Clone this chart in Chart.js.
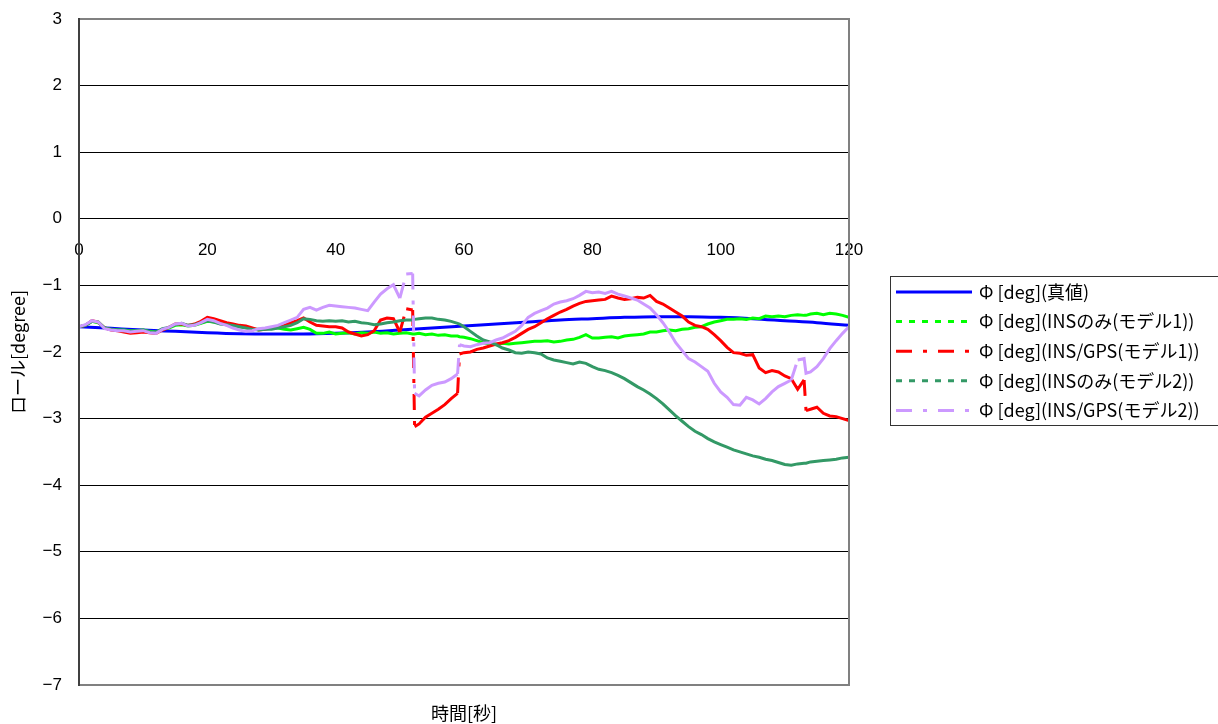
<!DOCTYPE html>
<html>
<head>
<meta charset="utf-8">
<script src="https://cdn.jsdelivr.net/npm/chart.js@4"></script>
<style>
  html, body { margin: 0; padding: 0; background: #fff; }
  #wrap { width: 1218px; height: 724px; position: relative; }
</style>
</head>
<body>
<div id="wrap"><canvas id="chart"></canvas></div>
<script>
// 時間[秒] — 52.3, 59.3, 113.3 are extra samples at the jumps
const times = [
  0, 1, 2, 3, 4, 5, 6, 7, 8, 9, 10, 11, 12, 13, 14, 15, 16, 17, 18, 19, 20, 21, 22, 23,
  24, 25, 26, 27, 28, 29, 30, 31, 32, 33, 34, 35, 36, 37, 38, 39, 40, 41, 42, 43, 44, 45, 46, 47, 48, 49, 50, 51, 52,
  52.3,
  53, 54, 55, 56, 57, 58, 59,
  59.3,
  60, 61, 62, 63, 64, 65, 66, 67, 68, 69, 70, 71, 72, 73, 74, 75, 76, 77, 78, 79,
  80, 81, 82, 83, 84, 85, 86, 87, 88, 89, 90, 91, 92, 93, 94, 95, 96, 97, 98, 99,
  100, 101, 102, 103, 104, 105, 106, 107, 108, 109, 110, 111, 112, 113,
  113.3,
  114, 115, 116, 117, 118, 119, 120
];

// 真値 (smooth, own time base)
const trueTimes = [0, 5, 10, 15, 20, 25, 30, 35, 40, 45, 50, 55, 60, 65, 70, 75, 80, 85, 90, 95, 100, 105, 110, 115, 120];
const trueVals = [-1.62, -1.645, -1.67, -1.69, -1.71, -1.725, -1.73, -1.73, -1.72, -1.70, -1.67, -1.64, -1.61,
  -1.58, -1.55, -1.52, -1.50, -1.48, -1.47, -1.47, -1.48, -1.50, -1.53, -1.56, -1.60];

// INSのみ(モデル1)
const ins1 = [
  -1.62, -1.60, -1.54, -1.56, -1.64, -1.66, -1.67, -1.67, -1.68, -1.68, -1.67, -1.69, -1.70, -1.66, -1.64, -1.60, -1.59, -1.61, -1.60, -1.57, -1.54, -1.55, -1.57, -1.58,
  -1.60, -1.62, -1.63, -1.66, -1.66, -1.65, -1.64, -1.64, -1.66, -1.67, -1.65, -1.63, -1.66, -1.72, -1.72, -1.70, -1.73, -1.72, -1.71, -1.73, -1.71, -1.72, -1.70, -1.72, -1.71, -1.73, -1.72, -1.71, -1.73,
  -1.73,
  -1.72, -1.74, -1.73, -1.75, -1.74, -1.76, -1.76,
  -1.77,
  -1.78, -1.80, -1.83, -1.86, -1.88, -1.89, -1.87, -1.88, -1.87, -1.86, -1.85, -1.84, -1.84, -1.83, -1.85, -1.84, -1.82, -1.81, -1.78, -1.74,
  -1.79, -1.79, -1.78, -1.77, -1.79, -1.76, -1.75, -1.74, -1.73, -1.70, -1.70, -1.68, -1.67, -1.68, -1.66, -1.65, -1.63, -1.62, -1.58, -1.55,
  -1.53, -1.51, -1.51, -1.50, -1.51, -1.49, -1.50, -1.46, -1.47, -1.46, -1.47, -1.45, -1.44, -1.45,
  -1.45,
  -1.43, -1.42, -1.44, -1.42, -1.43, -1.45, -1.48
];

// INS/GPS(モデル1)
const gps1 = [
  -1.62, -1.60, -1.53, -1.55, -1.64, -1.67, -1.68, -1.70, -1.72, -1.71, -1.70, -1.71, -1.72, -1.67, -1.63, -1.58, -1.58, -1.60, -1.58, -1.54, -1.48, -1.50, -1.53, -1.56,
  -1.58, -1.60, -1.61, -1.64, -1.67, -1.66, -1.64, -1.63, -1.60, -1.56, -1.53, -1.49, -1.55, -1.60, -1.61, -1.62, -1.62, -1.64, -1.70, -1.73, -1.76, -1.74, -1.68, -1.52, -1.49, -1.50, -1.70, -1.35, -1.37,
  -3.12,
  -3.08, -2.98, -2.92, -2.86, -2.79, -2.70, -2.62,
  -2.03,
  -2.01, -2.00, -1.96, -1.94, -1.91, -1.88, -1.86, -1.83, -1.78, -1.72, -1.66, -1.62, -1.56, -1.50, -1.45, -1.40, -1.36, -1.31, -1.27, -1.24,
  -1.23, -1.22, -1.21, -1.16, -1.19, -1.21, -1.20, -1.18, -1.19, -1.15, -1.24, -1.28, -1.34, -1.40, -1.46, -1.55, -1.60, -1.62, -1.66, -1.74,
  -1.83, -1.93, -2.01, -2.02, -2.05, -2.04, -2.24, -2.31, -2.28, -2.30, -2.36, -2.40, -2.56, -2.42,
  -2.88,
  -2.86, -2.83, -2.92, -2.96, -2.97, -3.00, -3.03
];

// INSのみ(モデル2)
const ins2 = [
  -1.62, -1.60, -1.54, -1.55, -1.64, -1.66, -1.67, -1.68, -1.68, -1.68, -1.67, -1.70, -1.70, -1.65, -1.63, -1.59, -1.57, -1.60, -1.59, -1.56, -1.53, -1.55, -1.58, -1.59,
  -1.60, -1.62, -1.64, -1.66, -1.67, -1.66, -1.66, -1.64, -1.62, -1.60, -1.56, -1.50, -1.51, -1.53, -1.54, -1.53, -1.54, -1.53, -1.55, -1.54, -1.56, -1.57, -1.59, -1.58, -1.56, -1.55, -1.53, -1.52, -1.52,
  -1.51,
  -1.50, -1.49, -1.49, -1.51, -1.52, -1.54, -1.57,
  -1.58,
  -1.62, -1.69, -1.76, -1.82, -1.85, -1.89, -1.94, -1.97, -2.01, -2.02, -2.00, -2.01, -2.03, -2.09, -2.12, -2.14, -2.16, -2.18, -2.15, -2.17,
  -2.22, -2.26, -2.28, -2.31, -2.35, -2.40, -2.46, -2.52, -2.57, -2.63, -2.70, -2.78, -2.87, -2.96, -3.04, -3.12, -3.19, -3.24, -3.30, -3.35,
  -3.39, -3.43, -3.47, -3.50, -3.53, -3.56, -3.58, -3.61, -3.63, -3.66, -3.69, -3.70, -3.68, -3.67,
  -3.67,
  -3.65, -3.64, -3.63, -3.62, -3.61, -3.59, -3.58
];

// INS/GPS(モデル2)
const gps2 = [
  -1.62, -1.59, -1.53, -1.55, -1.65, -1.67, -1.68, -1.68, -1.70, -1.69, -1.68, -1.71, -1.72, -1.66, -1.63, -1.58, -1.57, -1.61, -1.60, -1.56, -1.51, -1.53, -1.57, -1.60,
  -1.64, -1.67, -1.69, -1.68, -1.65, -1.64, -1.62, -1.60, -1.56, -1.52, -1.48, -1.36, -1.33, -1.37, -1.33, -1.30, -1.31, -1.32, -1.33, -1.34, -1.36, -1.38, -1.25, -1.13, -1.05, -0.99, -1.19, -0.83, -0.82,
  -2.62,
  -2.66, -2.57, -2.50, -2.47, -2.45, -2.40, -2.33,
  -1.89,
  -1.91, -1.92, -1.89, -1.87, -1.86, -1.82, -1.79, -1.74, -1.69, -1.60, -1.48, -1.42, -1.38, -1.34, -1.28, -1.25, -1.23, -1.20, -1.15, -1.09,
  -1.11, -1.10, -1.12, -1.09, -1.13, -1.16, -1.19, -1.22, -1.28, -1.34, -1.44, -1.56, -1.70, -1.86, -1.98, -2.10, -2.15, -2.22, -2.29, -2.47,
  -2.60, -2.68, -2.79, -2.80, -2.68, -2.72, -2.78, -2.70, -2.60, -2.52, -2.47, -2.42, -2.12, -2.10,
  -2.32,
  -2.30, -2.22, -2.10, -1.95, -1.83, -1.72, -1.62
];

const seriesLabels = [
  'Φ [deg](真値)',
  'Φ [deg](INSのみ(モデル1))',
  'Φ [deg](INS/GPS(モデル1))',
  'Φ [deg](INSのみ(モデル2))',
  'Φ [deg](INS/GPS(モデル2))'
];

const yTicks = [3, 2, 1, 0, -1, -2, -3, -4, -5, -6, -7];

const dashShort = [6, 7];
const dashDot = [16, 11, 4, 11];

function pts(xs, ys) {
  return xs.map((x, i) => ({ x: x, y: ys[i] }));
}

// Excel-like: dense samples look solid, only the long jumps show the dash
function jumpDash(dash) {
  return ctx => Math.abs(ctx.p1.parsed.y - ctx.p0.parsed.y) > 0.28 ? dash : undefined;
}

// keep the plot box fixed: no extra room for overhanging tick labels
function noPad(scale) {
  scale.paddingTop = 0;
  scale.paddingBottom = 0;
  scale.paddingLeft = 0;
  scale.paddingRight = 0;
}

const frameAndLegend = {
  id: 'frameAndLegend',
  afterDraw(chart) {
    const ctx = chart.ctx;
    const { left, right, top, bottom } = chart.chartArea;
    ctx.save();
    // plot frame
    ctx.strokeStyle = '#808080';
    ctx.lineWidth = 2;
    ctx.beginPath();
    ctx.moveTo(left, top);
    ctx.lineTo(right, top);
    ctx.lineTo(right, bottom);
    ctx.lineTo(left, bottom);
    ctx.stroke();
    ctx.strokeStyle = '#404040';
    ctx.beginPath();
    ctx.moveTo(left, top - 1);
    ctx.lineTo(left, bottom + 1);
    ctx.stroke();

    // legend box
    ctx.strokeStyle = '#333';
    ctx.lineWidth = 1;
    ctx.strokeRect(890.5, 276.5, 340, 149);
    ctx.font = '18px "Noto Sans CJK JP", sans-serif';
    ctx.fillStyle = '#000';
    ctx.textBaseline = 'middle';
    chart.data.datasets.forEach((ds, i) => {
      const y = 292 + i * 29.6;
      ctx.strokeStyle = ds.borderColor;
      ctx.lineWidth = 3;
      ctx.setLineDash(ds.legendDash);
      ctx.beginPath();
      ctx.moveTo(896, y);
      ctx.lineTo(972, y);
      ctx.stroke();
      ctx.setLineDash([]);
      ctx.fillText(ds.label, 979, y);
    });
    ctx.restore();
  }
};

new Chart(document.getElementById('chart'), {
  type: 'line',
  data: {
    datasets: [
      {
        label: seriesLabels[0], data: pts(trueTimes, trueVals),
        borderColor: '#0000FF', borderWidth: 3, cubicInterpolationMode: 'monotone',
        legendDash: [], order: 5
      },
      {
        label: seriesLabels[1], data: pts(times, ins1),
        borderColor: '#00FF00', borderWidth: 3,
        legendDash: dashShort, segment: { borderDash: jumpDash(dashShort) }, order: 4
      },
      {
        label: seriesLabels[2], data: pts(times, gps1),
        borderColor: '#FF0000', borderWidth: 3,
        legendDash: dashDot, segment: { borderDash: jumpDash(dashDot) }, order: 3
      },
      {
        label: seriesLabels[3], data: pts(times, ins2),
        borderColor: '#339966', borderWidth: 3,
        legendDash: dashShort, segment: { borderDash: jumpDash(dashShort) }, order: 2
      },
      {
        label: seriesLabels[4], data: pts(times, gps2),
        borderColor: '#CC99FF', borderWidth: 3,
        legendDash: dashDot, segment: { borderDash: jumpDash(dashDot) }, order: 1
      }
    ]
  },
  options: {
    responsive: true,
    maintainAspectRatio: false,
    animation: false,
    layout: { padding: { left: 0, top: 19, right: 369, bottom: 0 } },
    elements: { point: { radius: 0 }, line: { borderCapStyle: 'butt' } },
    plugins: { legend: { display: false }, tooltip: { enabled: false } },
    scales: {
      x: {
        type: 'linear',
        position: { y: 0 },
        min: 0, max: 120,
        grid: { display: false, drawTicks: false },
        border: { display: false },
        ticks: {
          stepSize: 20, padding: 21, color: '#000',
          font: { family: '"Liberation Sans", Arial, sans-serif', size: 17 }
        },
        afterFit: noPad
      },
      x2: {
        type: 'linear',
        position: 'bottom',
        min: 0, max: 120,
        grid: { display: false, drawTicks: false },
        border: { display: false },
        ticks: { display: false },
        title: {
          display: true, text: '時間[秒]', color: '#000', padding: 0,
          font: { family: '"Noto Sans CJK JP", sans-serif', size: 18 }
        },
        afterFit(scale) { noPad(scale); scale.height = 39; }
      },
      y: {
        type: 'linear',
        min: -7, max: 3,
        afterBuildTicks(scale) { scale.ticks = yTicks.map(v => ({ value: v })); },
        grid: { color: '#000', lineWidth: 1, drawTicks: false },
        border: { display: false },
        ticks: {
          padding: 17, color: '#000',
          font: { family: '"Liberation Sans", Arial, sans-serif', size: 17 },
          callback: v => v < 0 ? '\u2212' + Math.abs(v) : String(v)
        },
        title: {
          display: true, text: 'ロール[degree]', color: '#000', padding: { top: 7, bottom: 0 },
          font: { family: '"Noto Sans CJK JP", sans-serif', size: 18 }
        },
        afterFit(scale) { noPad(scale); scale.width = 79; }
      }
    }
  },
  plugins: [frameAndLegend]
});
</script>
</body>
</html>
